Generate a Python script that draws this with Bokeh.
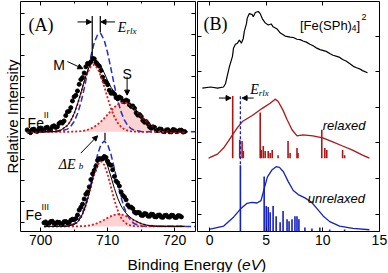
from bokeh.plotting import figure
from bokeh.models import Range1d, LinearAxis, FixedTicker, Arrow, NormalHead, Label
from bokeh.layouts import column, row
from bokeh.embed import file_html
from bokeh.resources import INLINE

# ---------------- Panel A : Fe 2p photoemission ----------------
fe2_data_ev = [698.0, 698.5, 699.0, 699.5, 700.0, 700.5, 701.0, 701.5, 702.0, 702.5,
               703.0, 703.5, 704.0, 704.5, 705.0, 705.5, 706.0, 706.5, 707.0, 707.5,
               708.0, 708.5, 709.0, 709.5, 710.0, 710.5, 711.0, 711.5, 712.0, 712.5,
               713.0, 713.5, 714.0, 714.5, 715.0, 715.5, 716.0, 716.5, 717.0, 717.5,
               718.0, 718.5, 719.0, 719.5, 720.0, 720.5, 721.0, 721.5]
fe2_data_int = [4.43, 4.30, 4.47, 4.36, 4.52, 4.40, 4.56, 4.45, 4.63, 4.58,
                4.80, 4.86, 5.30, 5.50, 6.02, 6.30, 6.85, 7.16, 7.62, 7.70,
                7.84, 7.55, 7.28, 6.76, 6.60, 6.19, 6.15, 5.92, 5.96, 5.78,
                5.82, 5.56, 5.47, 5.14, 5.08, 4.80, 4.73, 4.51, 4.55, 4.40,
                4.46, 4.35, 4.44, 4.34, 4.43, 4.37, 4.42, 4.35]
fe2_data2_ev = [698.25, 698.75, 699.25, 699.75, 700.25, 700.75, 701.25, 701.75, 702.25,
                702.75, 703.25, 703.75, 704.25, 704.75, 705.25, 705.75, 706.25, 706.75,
                707.25, 707.75, 708.25, 708.75, 709.25, 709.75, 710.25, 710.75, 711.25,
                711.75, 712.25, 712.75, 713.25, 713.75, 714.25, 714.75, 715.25, 715.75,
                716.25, 716.75, 717.25, 717.75, 718.25, 718.75, 719.25, 719.75, 720.25,
                720.75, 721.25]
fe2_data2_int = [4.35, 4.45, 4.38, 4.49, 4.41, 4.53, 4.44, 4.59, 4.55,
                 4.74, 4.76, 5.12, 5.33, 5.82, 6.09, 6.62, 6.94, 7.46,
                 7.60, 7.86, 7.65, 7.49, 6.96, 6.74, 6.33, 6.23, 5.98,
                 6.01, 5.80, 5.86, 5.63, 5.58, 5.25, 5.17, 4.88, 4.83,
                 4.57, 4.58, 4.41, 4.48, 4.36, 4.43, 4.34, 4.45, 4.35,
                 4.42, 4.33]

fe2_comp_ev = [698, 700, 702, 703, 704, 704.5, 705, 705.5, 706, 706.5, 707, 707.5, 708,
               708.5, 709, 709.5, 710, 710.5, 711, 711.5, 712, 712.5, 713, 713.5, 714,
               715, 716, 717, 718, 719, 720, 721.5]
fe2_base = 4.34
fe2_M = [4.34, 4.34, 4.354, 4.416, 4.640, 4.872, 5.207, 5.651, 6.173, 6.712, 7.178, 7.481,
         7.555, 7.384, 7.006, 6.500, 5.960, 5.461, 5.059, 4.766, 4.574, 4.459, 4.396,
         4.364, 4.350, 4.34, 4.34, 4.34, 4.34, 4.34, 4.34, 4.34]
fe2_S = [4.34, 4.34, 4.34, 4.340, 4.342, 4.345, 4.350, 4.358, 4.373, 4.399, 4.438, 4.498,
         4.581, 4.692, 4.831, 4.994, 5.173, 5.354, 5.519, 5.649, 5.729, 5.749, 5.705,
         5.602, 5.456, 5.100, 4.772, 4.544, 4.420, 4.366, 4.347, 4.34]
fe2_fit = [4.34, 4.34, 4.354, 4.416, 4.642, 4.877, 5.217, 5.669, 6.206, 6.771, 7.276, 7.639,
           7.796, 7.736, 7.497, 7.154, 6.793, 6.475, 6.238, 6.075, 5.963, 5.868, 5.761,
           5.626, 5.466, 5.100, 4.772, 4.544, 4.420, 4.366, 4.347, 4.34]
fe2_unrel_ev = [698, 702, 703, 704, 704.5, 705, 705.5, 706, 706.5, 707, 707.5, 708, 708.5,
                708.8, 709, 709.5, 710, 710.5, 711, 711.5, 712, 712.5, 713, 713.5, 714,
                715, 716, 723.1]
fe2_unrel = [4.34, 4.343, 4.365, 4.470, 4.604, 4.837, 5.205, 5.732, 6.412, 7.193, 7.973,
             8.621, 9.004, 9.07, 9.04, 8.721, 8.119, 7.353, 6.563, 5.858, 5.296, 4.898,
             4.642, 4.491, 4.410, 4.352, 4.34, 4.34]

fe3_data_ev = [700.5, 701.0, 701.5, 702.0, 702.5, 703.0, 703.5, 704.0, 704.5, 705.0,
               705.5, 706.0, 706.5, 707.0, 707.5, 708.0, 708.5, 709.0, 709.5, 710.0,
               710.5, 711.0, 711.5, 712.0, 712.5, 713.0, 713.5, 714.0, 714.5, 715.0,
               715.5, 716.0, 716.5, 717.0, 717.5, 718.0, 718.5, 719.0, 719.5, 720.0,
               720.5, 721.0]
fe3_data_int = [-0.02, -0.09, 0.04, -0.06, 0.01, -0.08, 0.03, -0.03, 0.10, 0.12,
                0.35, 0.72, 1.12, 1.46, 2.05, 2.49, 2.97, 3.03, 3.16, 2.93,
                2.74, 2.20, 1.90, 1.46, 1.22, 0.83, 0.73, 0.49, 0.48, 0.34,
                0.42, 0.30, 0.39, 0.27, 0.34, 0.25, 0.33, 0.26, 0.34, 0.24,
                0.32, 0.26]
fe3_data2_ev = [700.75, 701.25, 701.75, 702.25, 702.75, 703.25, 703.75, 704.25, 704.75,
                705.25, 705.75, 706.25, 706.75, 707.25, 707.75, 708.25, 708.75, 709.25,
                709.75, 710.25, 710.75, 711.25, 711.75, 712.25, 712.75, 713.25, 713.75,
                714.25, 714.75, 715.25, 715.75, 716.25, 716.75, 717.25, 717.75, 718.25,
                718.75, 719.25, 719.75, 720.25, 720.75]
fe3_data2_int = [0.02, -0.06, 0.05, -0.08, 0.00, -0.07, 0.04, -0.02, 0.15,
                 0.18, 0.59, 0.87, 1.35, 1.70, 2.33, 2.69, 3.06, 3.04,
                 3.11, 2.78, 2.52, 1.98, 1.74, 1.29, 1.08, 0.73, 0.66,
                 0.44, 0.46, 0.33, 0.40, 0.29, 0.38, 0.26, 0.35, 0.24,
                 0.34, 0.25, 0.33, 0.23, 0.31]

fe3_comp_ev = [700.5, 703, 704, 705, 705.5, 706, 706.5, 707, 707.5, 708, 708.5, 709, 709.5,
               710, 710.5, 711, 711.5, 712, 712.5, 713, 713.5, 714, 715, 716, 717, 718, 721.5]
fe3_base = -0.195
fe3_M = [-0.195, -0.194, -0.184, -0.110, 0.003, 0.216, 0.568, 1.072, 1.684, 2.296, 2.754,
         2.925, 2.754, 2.296, 1.684, 1.072, 0.568, 0.216, 0.003, -0.110, -0.162, -0.184,
         -0.194, -0.195, -0.195, -0.195, -0.195]
fe3_S = [-0.195, -0.195, -0.195, -0.193, -0.191, -0.186, -0.178, -0.161, -0.135, -0.094,
         -0.037, 0.037, 0.123, 0.214, 0.297, 0.359, 0.388, 0.380, 0.335, 0.262, 0.175,
         0.084, -0.065, -0.148, -0.182, -0.193, -0.195]
fe3_fit = [-0.195, -0.194, -0.184, -0.108, 0.007, 0.225, 0.585, 1.106, 1.744, 2.397, 2.912,
           3.157, 3.072, 2.705, 2.176, 1.626, 1.151, 0.791, 0.533, 0.347, 0.208, 0.095,
           -0.064, -0.148, -0.182, -0.193, -0.195]
fe3_unrel_ev = [700.5, 703, 704, 705, 705.5, 706, 706.5, 707, 707.5, 708, 708.5, 709, 709.5,
                710, 710.5, 711, 711.5, 712, 712.5, 713, 713.5, 714, 715, 716, 723.1]
fe3_unrel = [-0.195, -0.192, -0.173, -0.072, 0.062, 0.297, 0.669, 1.196, 1.857, 2.583,
             3.253, 3.731, 3.905, 3.731, 3.253, 2.583, 1.857, 1.196, 0.669, 0.297, 0.062,
             -0.072, -0.173, -0.192, -0.195]

# peak markers used by the annotations
fe2_M_peak_ev = 707.7
fe2_unrel_peak_ev = 708.9
fe3_unrel_peak_ev = 709.6

# ---------------- Panel B : valence spectrum and calculations ----------------
exp_ev = [-0.64, 0.09, 0.70, 1.23, 1.40, 1.58, 1.75, 2.02, 2.11, 2.28, 2.46, 2.63, 2.81,
          2.98, 3.07, 3.25, 3.33, 3.51, 3.77, 3.86, 4.04, 4.30, 4.47, 4.65, 4.91, 5.18,
          5.44, 5.61, 5.96, 6.23, 6.67, 7.11, 7.40, 7.72, 8.00, 8.25, 8.55, 8.86, 9.15,
          9.47, 9.75, 10.00, 10.30, 10.61, 10.90, 11.23, 11.50, 11.75, 12.05, 12.37,
          12.70, 12.98, 13.25, 13.51, 13.95]
exp_int = [3.54, 3.57, 3.54, 3.57, 3.66, 3.91, 4.14, 4.43, 4.66, 4.77, 4.80, 4.89, 4.80,
           4.94, 5.14, 5.34, 5.51, 5.63, 5.60, 5.54, 5.66, 5.69, 5.63, 5.49, 5.37, 5.31,
           5.34, 5.26, 5.20, 5.09, 5.00, 4.97, 4.96, 4.91, 4.90, 4.86, 4.83, 4.77, 4.73,
           4.66, 4.62, 4.60, 4.57, 4.51, 4.46, 4.43, 4.40, 4.34, 4.30, 4.23,
           4.15, 4.11, 4.08, 4.03, 3.97]

rel_ev = [-0.09, 0.09, 0.70, 1.23, 1.67, 2.02, 2.46, 2.89, 3.77, 4.65, 5.35, 5.79, 6.05,
          6.49, 6.84, 7.28, 7.72, 8.25, 9.12, 10.00, 10.88, 11.75, 12.63, 13.51, 14.12]
rel_int = [1.571, 1.600, 1.686, 1.857, 2.057, 2.229, 2.429, 2.600, 2.771, 2.971, 3.114,
           3.229, 3.171, 2.914, 2.657, 2.371, 2.200, 2.229, 2.200, 2.143, 2.029, 1.914,
           1.800, 1.657, 1.571]
rel_stick_ev = [2.04, 2.66, 2.87, 2.98, 4.47, 4.56, 4.74, 4.91, 5.18, 5.35, 5.53, 6.05,
                6.93, 7.11, 7.72, 7.81, 9.91, 10.18, 10.35, 11.75, 11.93]
rel_stick_top = [3.314, 2.086, 2.057, 1.771, 2.857, 1.800, 1.914, 1.771, 1.771, 1.714,
                 1.800, 1.657, 2.057, 1.714, 1.857, 1.714, 2.371, 1.857, 1.800, 1.800, 1.657]
rel_base = 1.571

unrel_ev = [-0.06, 1.25, 2.13, 2.72, 3.31, 3.75, 4.18, 4.54, 4.82, 5.11, 5.50, 5.88, 6.17,
            6.52, 6.96, 7.39, 7.83, 8.42, 9.01, 9.45, 10.03, 10.61, 11.49, 12.66, 14.12]
unrel_int = [-0.429, -0.334, -0.077, 0.143, 0.306, 0.334, 0.314, 0.380, 0.714, 1.049,
             1.237, 1.334, 1.314, 1.191, 0.906, 0.666, 0.551, 0.457, 0.334, 0.171, -0.049,
             -0.209, -0.334, -0.400, -0.437]
unrel_stick_ev = [2.72, 4.82, 5.00, 5.18, 5.35, 5.61, 5.88, 6.23, 6.49, 6.84, 7.02, 7.28,
                  7.54, 7.72, 7.89, 8.42, 9.04, 9.74, 10.61, 11.93]
unrel_stick_top = [1.371, 1.057, 0.229, 0.200, 0.057, 0.229, -0.057, -0.229, 0.086, -0.143,
                   -0.200, -0.143, -0.057, -0.057, -0.143, -0.371, -0.400, -0.371, -0.429,
                   -0.429]
unrel_base = -0.49
homo_unrel_ev = 2.72
homo_rel_ev = 2.04

# ---------------- styling ----------------
SANS = "Liberation Sans"
SERIF = "Liberation Serif"
RED_DOT = "#e51515"
PINK = "#fbd3d3"
BLUE_DASH = "#1f2fd0"
DARK_RED = "#b01515"
BLUE = "#1420c2"


def style_axis(ax, ticks, minor=None, labels=True):
    ax.ticker = FixedTicker(ticks=ticks, minor_ticks=minor or [])
    ax.axis_line_color = None
    ax.major_tick_in = 4
    ax.major_tick_out = 0
    ax.minor_tick_in = 2
    ax.minor_tick_out = 0
    ax.major_tick_line_color = "black"
    ax.minor_tick_line_color = "black"
    if labels:
        ax.major_label_text_font = SANS
        ax.major_label_text_font_size = "14px"
        ax.major_label_text_color = "black"
        ax.major_label_standoff = 3
    else:
        ax.major_label_text_font_size = "0px"
        ax.major_label_text_color = None
        ax.major_label_standoff = 0


def frame_setup(p, xticks, xminor, yticks, xr, yr, fix_left=True):
    p.xgrid.visible = False
    p.ygrid.visible = False
    p.outline_line_color = "black"
    p.outline_line_width = 1
    p.background_fill_color = "white"
    p.border_fill_color = "white"
    style_axis(p.xaxis[0], xticks, xminor, True)
    style_axis(p.yaxis[0], yticks, None, False)
    if fix_left:
        p.yaxis[0].fixed_location = xr.start
    top = LinearAxis(fixed_location=yr.end)
    style_axis(top, xticks, xminor, False)
    p.add_layout(top, "above")
    right = LinearAxis(fixed_location=xr.end)
    style_axis(right, yticks, None, False)
    p.add_layout(right, "right")


def text(p, x, y, s, font=SANS, size="14px", style="normal", color="black"):
    p.add_layout(Label(x=x, y=y, text=s, text_font=font, text_font_size=size,
                       text_font_style=style, text_color=color,
                       text_baseline="alphabetic", text_align="left"))


def arrow(p, x0, y0, x1, y1):
    p.add_layout(Arrow(end=NormalHead(size=5, fill_color="black", line_color="black",
                                      line_width=1),
                       x_start=x0, y_start=y0, x_end=x1, y_end=y1,
                       line_color="black", line_width=1))


# ---------------- Panel A ----------------
xrA = Range1d(697.0, 723.1)
yrA = Range1d(-0.44, 10.59)
pA = figure(width=196, height=247, x_range=xrA, y_range=yrA, output_backend="svg",
            toolbar_location=None, min_border_left=20, min_border_right=1,
            min_border_top=1, min_border_bottom=0)
frame_setup(pA, [700, 710, 720], [705, 715], list(range(0, 11)), xrA, yrA, fix_left=False)
pA.yaxis[0].axis_label = "Relative Intensity"
pA.yaxis[0].axis_label_text_font = SANS
pA.yaxis[0].axis_label_text_font_size = "15px"
pA.yaxis[0].axis_label_text_font_style = "normal"
pA.yaxis[0].axis_label_text_color = "black"
pA.yaxis[0].axis_label_standoff = 0

for ev, S, base in ((fe2_comp_ev, fe2_S, fe2_base), (fe3_comp_ev, fe3_S, fe3_base)):
    pA.varea(x=ev, y1=base, y2=S, fill_color=PINK)
for ev, U in ((fe2_unrel_ev, fe2_unrel), (fe3_unrel_ev, fe3_unrel)):
    pA.line(ev, U, line_color=BLUE_DASH, line_width=1.5, line_dash="6 3")
for ev, val in ((fe2_data_ev, fe2_data_int), (fe2_data2_ev, fe2_data2_int),
                (fe3_data_ev, fe3_data_int), (fe3_data2_ev, fe3_data2_int)):
    pA.scatter(ev, val, size=4, color="black")
for ev, M, S in ((fe2_comp_ev, fe2_M, fe2_S), (fe3_comp_ev, fe3_M, fe3_S)):
    pA.line(ev, M, line_color=RED_DOT, line_width=1.8, line_dash="2 2")
    pA.line(ev, S, line_color=RED_DOT, line_width=1.8, line_dash="2 2")
pA.line(fe2_comp_ev, fe2_fit, line_color="black", line_width=1)
pA.line(fe3_comp_ev, fe3_fit, line_color="black", line_width=1)

# E_rlx marker lines and arrows
pA.segment(x0=[fe2_M_peak_ev, fe2_unrel_peak_ev, fe3_unrel_peak_ev],
           y0=[7.95, 9.10, 3.92],
           x1=[fe2_M_peak_ev, fe2_unrel_peak_ev, fe3_unrel_peak_ev],
           y1=[9.90, 9.90, 4.30], line_color="black", line_width=1.2)
arrow(pA, 705.5, 9.61, fe2_M_peak_ev - 0.1, 9.61)
arrow(pA, 711.1, 9.61, fe2_unrel_peak_ev + 0.1, 9.61)
text(pA, 711.5, 9.32, "E", font=SERIF, size="14px", style="italic")
text(pA, 712.8, 9.17, "rlx", font=SERIF, size="9px", style="italic")
text(pA, 698.2, 9.46, "(A)", font=SERIF, size="18px")
text(pA, 701.9, 7.56, "M", size="14px")
arrow(pA, 704.0, 7.71, 706.3, 7.37)
text(pA, 712.2, 7.12, "S", size="14px")
arrow(pA, 712.9, 6.98, 712.9, 6.10)
text(pA, 698.06, 4.78, "Fe", size="14px")
text(pA, 700.45, 5.17, "II", size="9px")
text(pA, 697.76, 0.36, "Fe", size="14px")
text(pA, 700.15, 0.75, "III", size="9px")
text(pA, 702.7, 2.78, "\u0394E", font=SERIF, size="14px", style="italic")
text(pA, 705.7, 2.68, "b", font=SERIF, size="9px", style="italic")
arrow(pA, 706.0, 3.32, 708.5, 4.15)

# ---------------- Panel B ----------------
xrB = Range1d(-1.07, 15.01)
yrB = Range1d(-0.486, 5.97)
pB = figure(width=192, height=247, x_range=xrB, y_range=yrB, output_backend="svg",
            toolbar_location=None, min_border_left=1, min_border_right=9,
            min_border_top=1, min_border_bottom=0)
frame_setup(pB, [0, 5, 10, 15], None, [0, 1, 2, 3, 4, 5], xrB, yrB)

pB.line(exp_ev, exp_int, line_color="black", line_width=1.2)
pB.segment(x0=rel_stick_ev, y0=rel_base, x1=rel_stick_ev, y1=rel_stick_top,
           line_color=DARK_RED, line_width=1.6)
pB.line(rel_ev, rel_int, line_color=DARK_RED, line_width=1.3)
pB.segment(x0=unrel_stick_ev, y0=unrel_base, x1=unrel_stick_ev, y1=unrel_stick_top,
           line_color=BLUE, line_width=1.6)
pB.line(unrel_ev, unrel_int, line_color=BLUE, line_width=1.3)
pB.segment(x0=[homo_unrel_ev], y0=[1.40], x1=[homo_unrel_ev], y1=[3.343],
           line_color=BLUE, line_width=1.3, line_dash="3 2")

arrow(pB, 0.82, 3.26, homo_rel_ev - 0.15, 3.26)
arrow(pB, 3.89, 3.26, homo_unrel_ev + 0.15, 3.26)
text(pB, 3.60, 3.486, "E", font=SERIF, size="14px", style="italic")
text(pB, 4.34, 3.40, "rlx", font=SERIF, size="9px", style="italic")
text(pB, -0.53, 5.34, "(B)", font=SERIF, size="18px")
text(pB, 7.98, 5.31, "[Fe(SPh)", size="13px")
text(pB, 12.54, 5.22, "4", size="9px")
text(pB, 12.98, 5.31, "]", size="13px")
text(pB, 13.42, 5.54, "2", size="9px")
text(pB, 10.0, 2.486, "relaxed", size="13px", style="italic")
text(pB, 8.68, 0.43, "unrelaxed", size="13px", style="italic")

# ---------------- shared x-axis title ----------------
strip = figure(width=388, height=25, x_range=Range1d(0, 388), y_range=Range1d(0, 25),
               x_axis_type=None, y_axis_type=None, output_backend="svg",
               toolbar_location=None, min_border=0, outline_line_color=None)
strip.background_fill_color = "white"
strip.border_fill_color = "white"
text(strip, 127, 8, "Binding Energy (", size="15.5px")
text(strip, 241.6, 8, "eV", size="15.5px", style="italic")
text(strip, 260.6, 8, ")", size="15.5px")

layout = column(row(pA, pB), strip)
open("out.html", "w").write(file_html(layout, INLINE))
